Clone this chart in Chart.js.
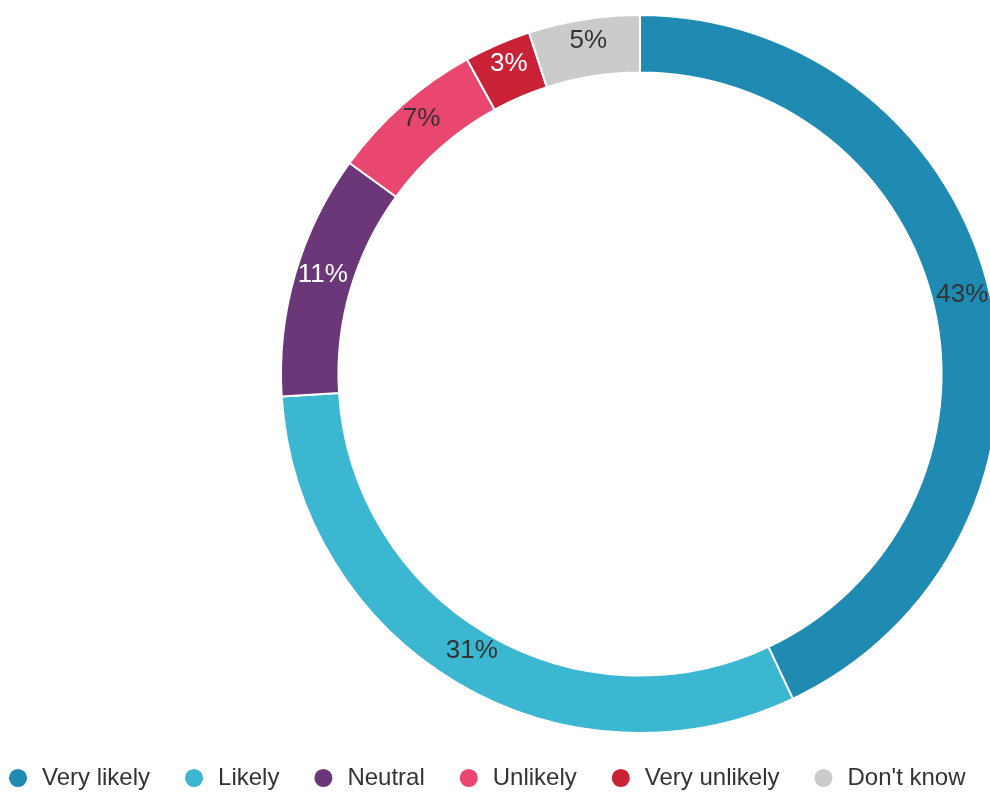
<!DOCTYPE html>
<html>
<head>
<meta charset="utf-8">
<script src="https://cdn.jsdelivr.net/npm/chart.js@4/dist/chart.umd.min.js"></script>
<style>
  html, body { margin: 0; padding: 0; background: #fff; overflow: hidden; }
  #wrap { width: 1332px; height: 793px; margin-left: -26px; }
</style>
</head>
<body>
<div id="wrap"><canvas id="chart" width="1332" height="793"></canvas></div>
<script>
const categories = ['Very likely', 'Likely', 'Neutral', 'Unlikely', 'Very unlikely', "Don't know"];
const shares = [43, 31, 11, 7, 3, 5];
const sliceColors = ['#1f8bb2', '#3bb7d2', '#6b3779', '#e94670', '#c92136', '#cbcbcb'];
const labelColors = ['#333333', '#333333', '#ffffff', '#333333', '#ffffff', '#333333'];

// Writes each slice's percentage on its arc, baseline at the arc's centre point
const sliceLabels = {
  id: 'sliceLabels',
  afterDatasetsDraw(chart) {
    const ctx = chart.ctx;
    const meta = chart.getDatasetMeta(0);
    ctx.save();
    ctx.font = '26px "Liberation Sans", Arial, sans-serif';
    ctx.textAlign = 'center';
    ctx.textBaseline = 'alphabetic';
    meta.data.forEach((arc, i) => {
      const p = arc.tooltipPosition();
      ctx.fillStyle = labelColors[i];
      ctx.fillText(shares[i] + '%', p.x, p.y);
    });
    ctx.restore();
  }
};

new Chart(document.getElementById('chart'), {
  type: 'doughnut',
  data: {
    labels: categories,
    datasets: [{
      data: shares,
      backgroundColor: sliceColors,
      borderColor: '#ffffff',
      borderWidth: 2,
      hoverOffset: 0
    }]
  },
  options: {
    responsive: false,
    animation: false,
    cutout: '84%',
    layout: { padding: { top: 14, bottom: 0, left: 0, right: 0 } },
    plugins: {
      tooltip: { enabled: false },
      legend: {
        position: 'bottom',
        align: 'start',
        maxHeight: 59,
        labels: {
          usePointStyle: true,
          pointStyle: 'circle',
          boxWidth: 24,
          boxHeight: 14.2,
          padding: 32,
          color: '#333333',
          font: { family: '"Liberation Sans", Arial, sans-serif', size: 24 }
        }
      }
    }
  },
  plugins: [sliceLabels]
});
</script>
</body>
</html>
